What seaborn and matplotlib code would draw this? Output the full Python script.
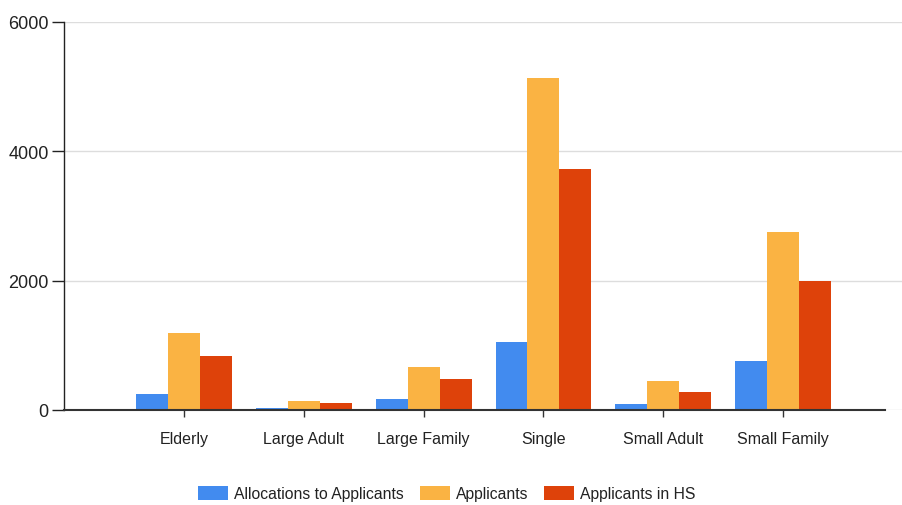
import pandas as pd
import matplotlib.pyplot as plt
import seaborn as sns

# data
categories = ["Elderly", "Large Adult", "Large Family", "Single", "Small Adult", "Small Family"]
allocations = [252, 30, 170, 1056, 88, 753]
applicants = [1190, 140, 665, 5133, 443, 2747]
applicants_hs = [830, 108, 480, 3721, 278, 2000]
series = ["Allocations to Applicants", "Applicants", "Applicants in HS"]
colors = ["#428BEF", "#FAB343", "#DE420A"]

df = pd.DataFrame({
    "category": categories * 3,
    "series": [series[0]] * 6 + [series[1]] * 6 + [series[2]] * 6,
    "value": allocations + applicants + applicants_hs,
})

sns.set_style("white")
plt.rcParams["font.family"] = ["Liberation Sans", "DejaVu Sans"]

fig = plt.figure(figsize=(9.03, 5.06), dpi=100)
ax = fig.add_axes([0.071, 0.188, 0.929, 0.767])

sns.barplot(data=df, x="category", y="value", hue="series", order=categories,
            hue_order=series, palette=colors, width=0.8, saturation=1,
            edgecolor="none", ax=ax)

ax.set_xlim(-1, 6)
ax.set_ylim(0, 6000)
ax.set_yticks([0, 2000, 4000, 6000])
ax.yaxis.grid(True, color="#dddddd", linewidth=1)
ax.set_axisbelow(True)
ax.set_xlabel("")
ax.set_ylabel("")

for s in ["top", "right"]:
    ax.spines[s].set_visible(False)
ax.spines["left"].set_color("#222222")
ax.spines["left"].set_linewidth(1)
ax.spines["bottom"].set_color("#333333")
ax.spines["bottom"].set_linewidth(1.5)
ax.spines["bottom"].set_bounds(-1, 5.85)

ax.tick_params(axis="y", left=True, length=9, width=1, color="#222222",
               labelsize=13, labelcolor="#222222", pad=2)
ax.tick_params(axis="x", bottom=True, length=5, width=1, color="#333333",
               labelsize=11.5, labelcolor="#222222", pad=10)

handles, labels = ax.get_legend_handles_labels()
ax.legend_.remove()
fig.legend(handles, labels, loc="center", bbox_to_anchor=(0.495, 0.023), ncol=3,
           frameon=False, fontsize=11.3, handlelength=1.9, handleheight=1.05,
           columnspacing=1.0, handletextpad=0.4, labelcolor="#222222",
           borderaxespad=0, borderpad=0)

fig.savefig("out.png", dpi=100)
